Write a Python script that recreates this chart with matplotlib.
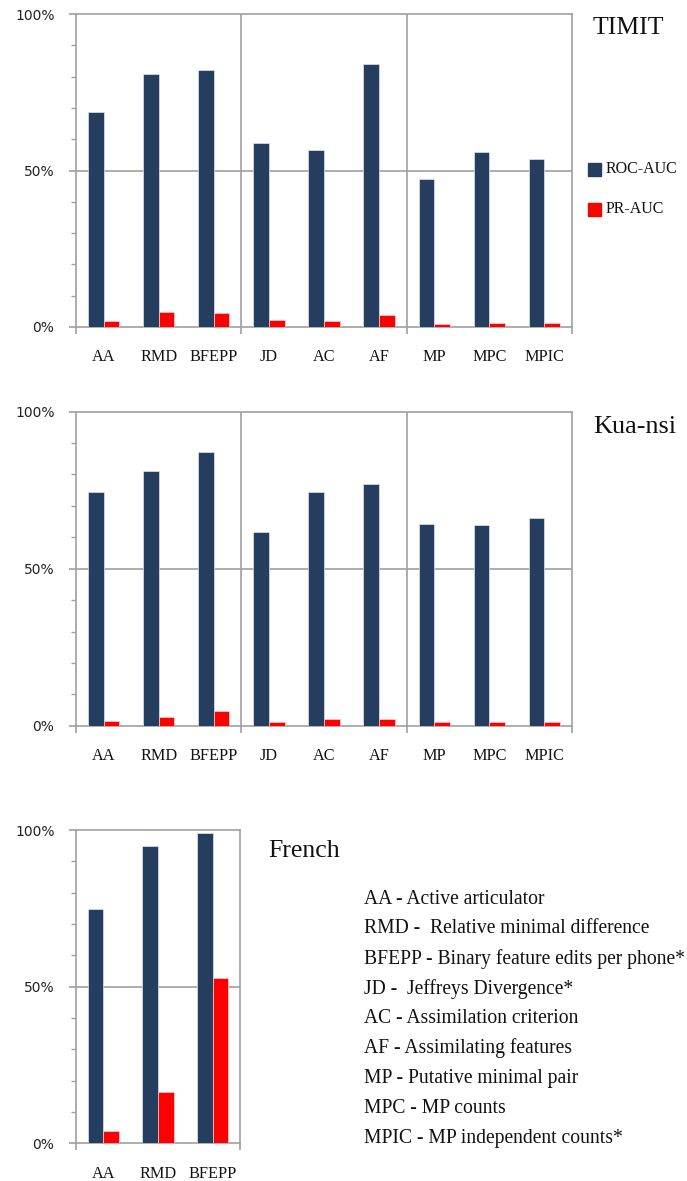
import matplotlib
matplotlib.use("Agg")
import matplotlib.pyplot as plt
from matplotlib.ticker import FixedLocator, MultipleLocator, FuncFormatter
from matplotlib.patches import Rectangle

# Metric abbreviations shown on the x axes
metrics = ["AA", "RMD", "BFEPP", "JD", "AC", "AF", "MP", "MPC", "MPIC"]
french_metrics = ["AA", "RMD", "BFEPP"]

# TIMIT scores
timit_roc = [0.688, 0.809, 0.822, 0.589, 0.565, 0.840, 0.474, 0.558, 0.536]
timit_pr = [0.019, 0.048, 0.044, 0.021, 0.020, 0.038, 0.010, 0.012, 0.012]

# Kua-nsi scores
kuansi_roc = [0.744, 0.812, 0.871, 0.617, 0.744, 0.771, 0.642, 0.639, 0.660]
kuansi_pr = [0.014, 0.027, 0.048, 0.011, 0.021, 0.021, 0.011, 0.011, 0.011]

# French scores
french_roc = [0.749, 0.950, 0.992]
french_pr = [0.039, 0.165, 0.527]

series_names = ["ROC-AUC", "PR-AUC"]

glossary = [
    "AA - Active articulator",
    "RMD -  Relative minimal difference",
    "BFEPP - Binary feature edits per phone*",
    "JD -  Jeffreys Divergence*",
    "AC - Assimilation criterion",
    "AF - Assimilating features",
    "MP - Putative minimal pair",
    "MPC - MP counts",
    "MPIC - MP independent counts*",
]

ROC_COLOR = "#253e5f"
PR_COLOR = "#ff0000"
GRID = "#a0a0a0"
SERIF = "Liberation Serif"

W, H = 687, 1181
fig = plt.figure(figsize=(W / 100, H / 100), dpi=100)


def px_axes(left, right, top, bottom):
    return fig.add_axes([left / W, (H - bottom) / H, (right - left) / W, (bottom - top) / H])


def draw_panel(ax, labels, roc, pr):
    n = len(labels)
    x = list(range(n))
    bw = 0.285
    ax.bar([i - bw / 2 for i in x], roc, width=bw, color=ROC_COLOR,
           edgecolor="#dfe5ee", linewidth=0.5, zorder=3)
    ax.bar([i + bw / 2 for i in x], pr, width=bw, color=PR_COLOR,
           edgecolor="#ffd0d0", linewidth=0.5, zorder=3)
    ax.set_xlim(-0.5, n - 0.5)
    ax.set_ylim(0, 1)
    for s in ax.spines.values():
        s.set_color(GRID)
        s.set_linewidth(1.2)
    ax.axhline(0.5, color=GRID, lw=1.2, zorder=1)
    for b in range(3, n, 3):
        ax.axvline(b - 0.5, color=GRID, lw=1.2, zorder=1)
    # y ticks: labelled majors, short minor marks
    ax.yaxis.set_major_locator(FixedLocator([0, 0.5, 1.0]))
    ax.yaxis.set_minor_locator(MultipleLocator(0.1))
    ax.yaxis.set_major_formatter(FuncFormatter(lambda v, p: f"{int(round(v * 100))}%"))
    ax.tick_params(axis="y", which="major", length=5, width=1.2, color=GRID,
                   pad=10.5, labelsize=10, labelcolor="#222222")
    ax.tick_params(axis="y", which="minor", length=3.6, width=1.0, color=GRID)
    # x ticks: group boundaries marked, category names as labels
    ax.set_xticks([b - 0.5 for b in range(0, n + 1, 3)])
    ax.set_xticklabels([])
    ax.set_xticks(x, minor=True)
    ax.set_xticklabels(labels, minor=True, fontfamily=SERIF, fontsize=11.7,
                       color="#111111")
    ax.tick_params(axis="x", which="major", length=5, width=1.2, color=GRID)
    ax.tick_params(axis="x", which="minor", length=0, pad=16)


ax1 = px_axes(76, 572, 14, 327)
draw_panel(ax1, metrics, timit_roc, timit_pr)
ax2 = px_axes(76, 572, 411.7, 725.7)
draw_panel(ax2, metrics, kuansi_roc, kuansi_pr)
ax3 = px_axes(76, 240, 830, 1143.3)
draw_panel(ax3, french_metrics, french_roc, french_pr)

# panel titles
fig.text(593 / W, 1 - 34 / H, "TIMIT", fontfamily=SERIF, fontsize=18.5,
         va="baseline", ha="left", color="#111111")
fig.text(593 / W, 1 - 433 / H, "Kua-nsi", fontfamily=SERIF, fontsize=18.8,
         va="baseline", ha="left", color="#111111")
fig.text(268 / W, 1 - 857 / H, "French", fontfamily=SERIF, fontsize=18.5,
         va="baseline", ha="left", color="#111111")

# legend drawn as swatches beside the TIMIT panel
for name, col, yc in zip(series_names, [ROC_COLOR, PR_COLOR], [169, 209]):
    fig.patches.append(Rectangle((588 / W, 1 - (yc + 6.5) / H), 13 / W, 13 / H,
                                 transform=fig.transFigure, color=col))
    fig.text(606 / W, 1 - yc / H, name, fontfamily=SERIF, fontsize=11.5,
             va="center", ha="left", color="#111111")

# glossary of abbreviations
for i, line in enumerate(glossary):
    fig.text(364 / W, 1 - (899 + 29.9 * i) / H, line, fontfamily=SERIF,
             fontsize=14.1, va="center", ha="left", color="#111111")

fig.savefig("out.png", dpi=100, facecolor="white")
